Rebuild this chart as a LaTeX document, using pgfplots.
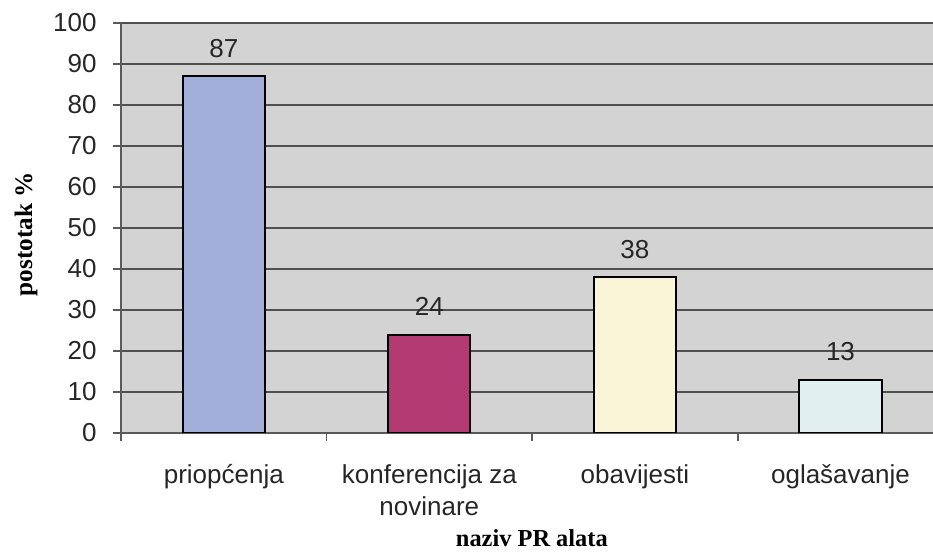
\documentclass[border=0pt]{standalone}
\usepackage{pgfplots}
\pgfplotsset{compat=1.18}
\usepackage{fontspec}
\setmainfont{Liberation Sans}
\newfontfamily\titlefont{Liberation Serif}

\definecolor{bggray}{RGB}{211,211,211}
\definecolor{gridgray}{RGB}{80,80,80}
\definecolor{axisgray}{RGB}{90,90,90}
\definecolor{labelgray}{RGB}{38,38,38}
\definecolor{barA}{RGB}{162,175,218}
\definecolor{barB}{RGB}{179,58,115}
\definecolor{barC}{RGB}{251,245,215}
\definecolor{barD}{RGB}{226,239,240}

\begin{document}
\begin{tikzpicture}
\begin{axis}[
  name=ax,
  scale only axis,
  width=406pt, height=205pt,
  xmin=-0.5, xmax=3.45,
  ymin=0, ymax=100,
  axis x line=bottom, axis y line=left,
  axis line style={-, draw=axisgray, line width=0.8pt},
  axis background/.style={fill=bggray},
  ytick={0,10,...,100},
  ymajorgrids,
  grid style={draw=gridgray, line width=1pt},
  tick align=outside,
  major tick length=4pt,
  tick style={draw=axisgray, line width=0.8pt},
  xtick={-0.5,0.5,1.5,2.5},
  xticklabels={},
  extra x ticks={0,1,2,3},
  extra x tick labels={\strut priopćenja, {\strut konferencija za\\novinare}, \strut obavijesti, \strut oglašavanje},
  extra x tick style={major tick length=0pt, tick style={draw=none}, grid=none},
  /pgf/number format/assume math mode=true,
  tick label style={font=\fontsize{13}{16}\selectfont, text=labelgray},
  xticklabel style={align=center, anchor=north, inner sep=0pt, yshift=-14pt},
  yticklabel style={anchor=east, inner sep=0pt, xshift=-8pt},
  xlabel={\titlefont\bfseries naziv PR alata},
  ylabel={\titlefont\bfseries postotak \%},
  xlabel style={at={(axis description cs:0.506,-0.277)}, anchor=base, font=\fontsize{12.2}{14}\selectfont},
  ylabel style={at={(axis description cs:-0.117,0.485)}, anchor=center, font=\fontsize{12.6}{14}\selectfont},
  nodes near coords,
  every node near coord/.append style={font=\fontsize{13}{16}\selectfont, text=labelgray, anchor=south, inner sep=0pt, yshift=8.8pt},
]
\addplot[ybar, bar width=0.4, fill=barA, draw=black, line width=1pt] coordinates {(0,87)};
\addplot[ybar, bar width=0.4, fill=barB, draw=black, line width=1pt] coordinates {(1,24)};
\addplot[ybar, bar width=0.4, fill=barC, draw=black, line width=1pt] coordinates {(2,38)};
\addplot[ybar, bar width=0.4, fill=barD, draw=black, line width=1pt] coordinates {(3,13)};
\end{axis}
\pgfresetboundingbox
\path ([xshift=-60.5pt,yshift=-60.5pt]ax.south west) rectangle ([yshift=11.5pt]ax.north east);
\end{tikzpicture}
\end{document}
